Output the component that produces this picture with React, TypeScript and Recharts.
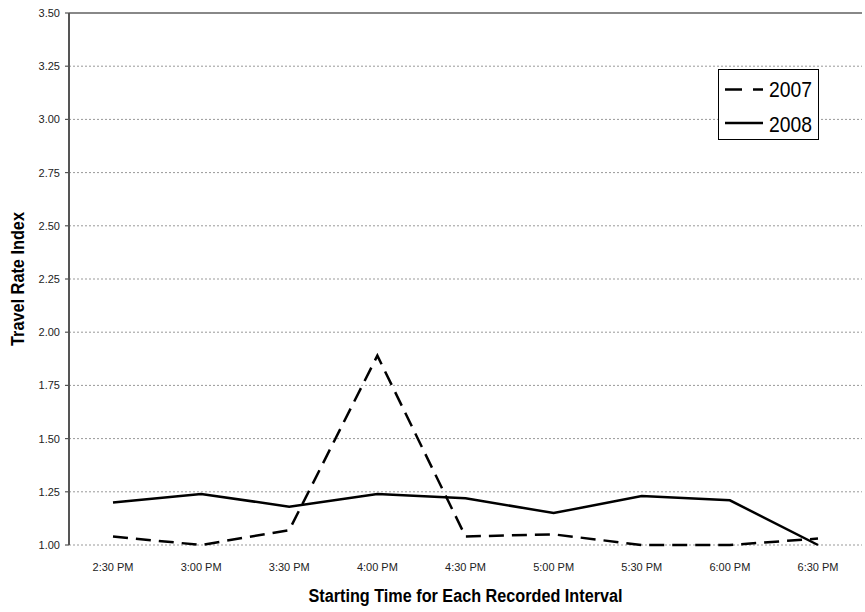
import React from 'react';
import { LineChart, Line, XAxis, YAxis, CartesianGrid, Legend, ReferenceLine, Label } from 'recharts';

const times = ['2:30 PM', '3:00 PM', '3:30 PM', '4:00 PM', '4:30 PM', '5:00 PM', '5:30 PM', '6:00 PM', '6:30 PM'];
const tri2007 = [1.04, 1.0, 1.07, 1.89, 1.04, 1.05, 1.0, 1.0, 1.03];
const tri2008 = [1.2, 1.24, 1.18, 1.24, 1.22, 1.15, 1.23, 1.21, 1.0];
const yTicks = [1.0, 1.25, 1.5, 1.75, 2.0, 2.25, 2.5, 2.75, 3.0, 3.25, 3.5];
const boundaryTicks = [0, 1, 2, 3, 4, 5, 6, 7, 8, 9];
const legendItems = [
  { name: '2007', dash: '17 11' },
  { name: '2008', dash: undefined },
];

const data = times.map((t, i) => ({ time: t, y2007: tri2007[i], y2008: tri2008[i] }));

const font = '"Liberation Sans", Arial, sans-serif';

// condensed look: squeeze the text into the width measured on the original
const LegendBox = () => (
  <svg width={101} height={71} style={{ display: 'block' }}>
    <rect x={0.5} y={0.5} width={100} height={70} fill="#fff" stroke="#000" strokeWidth={1} />
    {legendItems.map((it, i) => (
      <g key={it.name}>
        <line x1={7} y1={20.5 + i * 33.5} x2={45} y2={20.5 + i * 33.5} stroke="#000" strokeWidth={2.5} strokeDasharray={it.dash} />
        <text x={51} y={28 + i * 34.5} fontFamily={font} fontSize={22} fill="#000" textLength={43} lengthAdjust="spacingAndGlyphs">
          {it.name}
        </text>
      </g>
    ))}
  </svg>
);

export default function App() {
  return (
    <div style={{ position: 'absolute', left: 0, top: 0, background: '#fff' }}>
      <LineChart width={865} height={612} data={data} margin={{ top: 13, right: 3, bottom: 0, left: 0 }}>
        <CartesianGrid xAxisId="cat" vertical={false} stroke="#999" strokeDasharray="2 2" />
        <XAxis
          xAxisId="grid"
          type="number"
          domain={[0, 9]}
          ticks={boundaryTicks}
          tick={false}
          tickSize={5}
          height={0}
          axisLine={{ stroke: '#555', strokeWidth: 2 }}
          tickLine={{ stroke: '#555', strokeWidth: 1.2 }}
        />
        <XAxis
          xAxisId="cat"
          dataKey="time"
          height={67}
          padding={{ left: 44, right: 44 }}
          axisLine={false}
          tickLine={false}
          tickSize={0}
          tickMargin={18}
          interval={0}
          tick={{ fill: '#222', fontSize: 11, fontFamily: font }}
        >
          <Label
            content={({ viewBox }: any) => (
              <text
                x={viewBox.x + viewBox.width / 2}
                y={viewBox.y + 57}
                textAnchor="middle"
                fontFamily={font}
                fontWeight="bold"
                fontSize={18}
                fill="#000"
                textLength={314}
                lengthAdjust="spacingAndGlyphs"
              >
                Starting Time for Each Recorded Interval
              </text>
            )}
          />
        </XAxis>
        <YAxis
          type="number"
          domain={[1, 3.5]}
          ticks={yTicks}
          width={69}
          interval={0}
          tickFormatter={(v: number) => v.toFixed(2)}
          tickSize={4}
          tickMargin={5}
          axisLine={{ stroke: '#555', strokeWidth: 2 }}
          tickLine={{ stroke: '#555', strokeWidth: 1.2 }}
          tick={{ fill: '#222', fontSize: 11, fontFamily: font }}
        >
          <Label
            content={({ viewBox }: any) => {
              const cx = viewBox.x + 24;
              const cy = viewBox.y + viewBox.height / 2;
              return (
                <text
                  x={cx}
                  y={cy}
                  transform={`rotate(-90, ${cx}, ${cy})`}
                  textAnchor="middle"
                  fontFamily={font}
                  fontWeight="bold"
                  fontSize={18}
                  fill="#000"
                  textLength={134}
                  lengthAdjust="spacingAndGlyphs"
                >
                  Travel Rate Index
                </text>
              );
            }}
          />
        </YAxis>
        <ReferenceLine y={3.5} xAxisId="cat" stroke="#888" strokeWidth={2} />
        <ReferenceLine x={9} xAxisId="grid" stroke="#888" strokeWidth={2} />
        <Legend
          layout="vertical"
          align="center"
          verticalAlign="middle"
          content={() => <LegendBox />}
          wrapperStyle={{ left: 718, top: 69, width: 101, height: 71 }}
        />
        <Line
          xAxisId="cat"
          type="linear"
          dataKey="y2007"
          name="2007"
          stroke="#000"
          strokeWidth={2.5}
          strokeDasharray="15 8"
          dot={false}
          activeDot={false}
          isAnimationActive={false}
        />
        <Line
          xAxisId="cat"
          type="linear"
          dataKey="y2008"
          name="2008"
          stroke="#000"
          strokeWidth={2.5}
          dot={false}
          activeDot={false}
          isAnimationActive={false}
        />
      </LineChart>
    </div>
  );
}
